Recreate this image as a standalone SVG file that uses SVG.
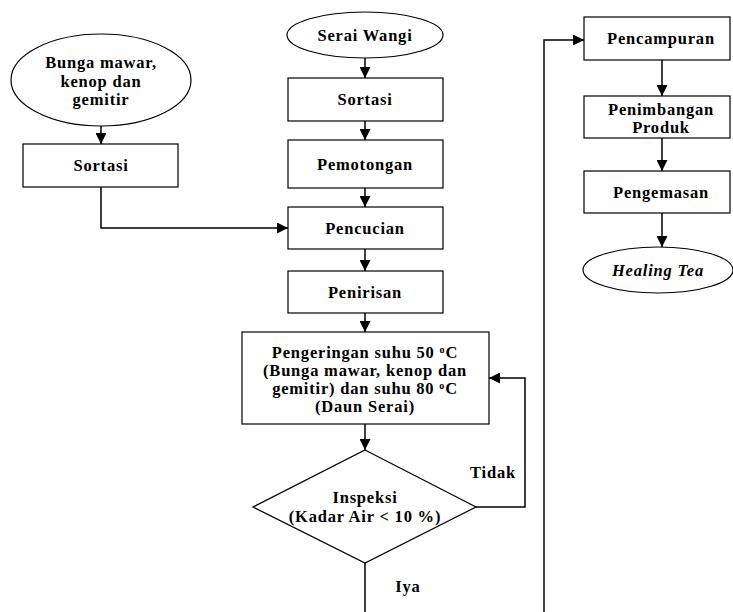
<svg xmlns="http://www.w3.org/2000/svg" width="733" height="612" viewBox="0 0 733 612">
<style>
.box{fill:#fff;stroke:#000;stroke-width:1.2}
.t{font-family:"Liberation Serif","Times New Roman",serif;font-weight:bold;font-size:16.5px;letter-spacing:0.8px;text-anchor:middle;fill:#000}
.it{font-style:italic}
.c{fill:none;stroke:#000;stroke-width:1.5}
</style>
<defs>
<marker id="ah" markerUnits="userSpaceOnUse" markerWidth="12" markerHeight="11" refX="11" refY="5.5" orient="auto">
<path d="M0,0 L11,5.5 L0,11 z" fill="#000"/>
</marker>
</defs>
<rect width="733" height="612" fill="#fff"/>
<g id="connectors">
<line class="c" x1="101" y1="126" x2="101" y2="144" marker-end="url(#ah)"/>
<polyline class="c" points="101,187 101,228 288,228" marker-end="url(#ah)"/>
<line class="c" x1="365" y1="58" x2="365" y2="78" marker-end="url(#ah)"/>
<line class="c" x1="365" y1="121" x2="365" y2="140" marker-end="url(#ah)"/>
<line class="c" x1="365" y1="188" x2="365" y2="207" marker-end="url(#ah)"/>
<line class="c" x1="365" y1="249" x2="365" y2="271" marker-end="url(#ah)"/>
<line class="c" x1="365" y1="313" x2="365" y2="332" marker-end="url(#ah)"/>
<line class="c" x1="365" y1="424" x2="365" y2="450" marker-end="url(#ah)"/>
<polyline class="c" points="476,507 525,507 525,378 489,378" marker-end="url(#ah)"/>
<line class="c" x1="365" y1="563" x2="365" y2="612"/>
<polyline class="c" points="544,612 544,40 584,40" marker-end="url(#ah)"/>
<line class="c" x1="662" y1="60" x2="662" y2="96" marker-end="url(#ah)"/>
<line class="c" x1="662" y1="138" x2="662" y2="171" marker-end="url(#ah)"/>
<line class="c" x1="662" y1="213" x2="662" y2="247" marker-end="url(#ah)"/>
<text class="t" x="493" y="478">Tidak</text>
<text class="t" x="408" y="592">Iya</text>
</g>
<g id="bunga">
<ellipse class="box" cx="101" cy="80" rx="90" ry="46"/>
<text class="t" x="101" y="68">Bunga mawar,</text>
<text class="t" x="101" y="87">kenop dan</text>
<text class="t" x="101" y="105">gemitir</text>
</g>
<g id="sortasi1">
<rect class="box" x="23" y="144" width="155" height="43"/>
<text class="t" x="101" y="171">Sortasi</text>
</g>
<g id="serai">
<ellipse class="box" cx="365" cy="35" rx="78" ry="23"/>
<text class="t" x="365" y="41">Serai Wangi</text>
</g>
<g id="sortasi2">
<rect class="box" x="288" y="78" width="155" height="43"/>
<text class="t" x="365" y="105">Sortasi</text>
</g>
<g id="pemotongan">
<rect class="box" x="288" y="140" width="155" height="48"/>
<text class="t" x="365" y="170">Pemotongan</text>
</g>
<g id="pencucian">
<rect class="box" x="288" y="207" width="155" height="42"/>
<text class="t" x="365" y="234">Pencucian</text>
</g>
<g id="penirisan">
<rect class="box" x="288" y="271" width="155" height="42"/>
<text class="t" x="365" y="298">Penirisan</text>
</g>
<g id="pengeringan">
<rect class="box" x="242" y="332" width="247" height="92"/>
<text class="t" x="365" y="358">Pengeringan suhu 50 <tspan font-size="10" dy="-5">o</tspan><tspan dy="5">C</tspan></text>
<text class="t" x="365" y="376">(Bunga mawar, kenop dan</text>
<text class="t" x="365" y="394">gemitir) dan suhu 80 <tspan font-size="10" dy="-5">o</tspan><tspan dy="5">C</tspan></text>
<text class="t" x="365" y="412">(Daun Serai)</text>
</g>
<g id="inspeksi">
<polygon class="box" points="365,450 476,507 365,563 253,507"/>
<text class="t" x="365" y="503">Inspeksi</text>
<text class="t" x="365" y="522">(Kadar Air &lt; 10 %)</text>
</g>
<g id="pencampuran">
<rect class="box" x="584" y="17" width="146" height="43"/>
<text class="t" x="661" y="44">Pencampuran</text>
</g>
<g id="penimbangan">
<rect class="box" x="584" y="96" width="146" height="42"/>
<text class="t" x="661" y="115">Penimbangan</text>
<text class="t" x="661" y="133">Produk</text>
</g>
<g id="pengemasan">
<rect class="box" x="584" y="171" width="146" height="42"/>
<text class="t" x="661" y="198">Pengemasan</text>
</g>
<g id="healing">
<ellipse class="box" cx="658" cy="270" rx="75" ry="23"/>
<text class="t it" x="658" y="276">Healing Tea</text>
</g>
</svg>
